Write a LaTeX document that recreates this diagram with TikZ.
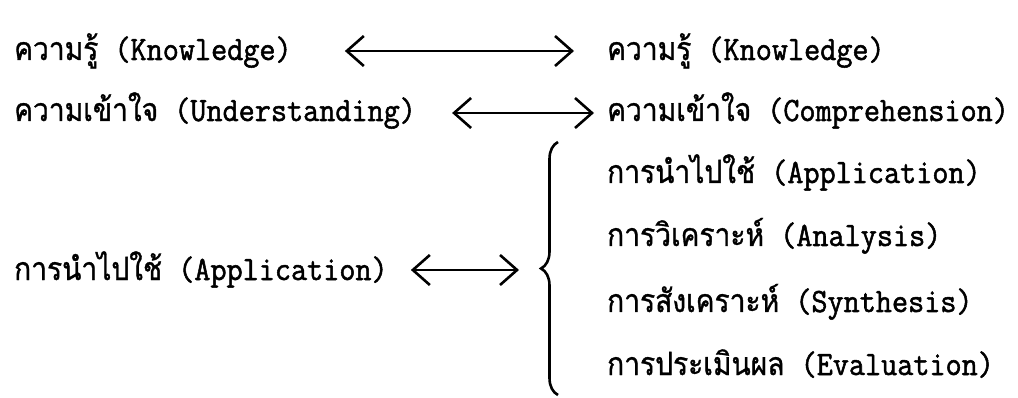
\documentclass[tikz,border=0pt]{standalone}
\usepackage{fontspec}
\setmainfont{Latin Modern Mono}[FakeStretch=0.92,FakeBold=1.5]
\newfontfamily\thai[Script=Thai,FakeStretch=0.88,FakeBold=1]{Loma}
\newcommand{\thaitext}[1]{{\thai\fontsize{32}{32}\selectfont #1}}
\usetikzlibrary{arrows.meta,decorations.pathreplacing}

\begin{document}
\begin{tikzpicture}[x=1pt,y=-1pt,
  every node/.style={inner sep=0pt,anchor=base west,font=\fontsize{34}{34}\selectfont},
  link/.style={line width=2.6pt,{Straight Barb[length=17pt,width=30pt]}-{Straight Barb[length=17pt,width=30pt]}}]
  \useasboundingbox (0,0) rectangle (1018,398);
  % left column
  \node (kl) at (14,60) {\thaitext{ความรู้} (Knowledge)};
  \node (ul) at (14,121) {\thaitext{ความเข้าใจ} (Understanding)};
  \node (al) at (14,280) {\thaitext{การนำไปใช้} (Application)};
  % right column
  \node (kr) at (607,60) {\thaitext{ความรู้} (Knowledge)};
  \node (cr) at (607,121) {\thaitext{ความเข้าใจ} (Comprehension)};
  \foreach \y/\nm/\th/\en in {183/apr/การนำไปใช้/Application,
      246/anr/การวิเคราะห์/Analysis,
      312/syr/การสังเคราะห์/Synthesis,
      375/evr/การประเมินผล/Evaluation} { %for each item under the brace
    \node (\nm) at (607,\y) {\thaitext{\th} (\en)};
  }
  % brace and its tip
  \draw[line width=2.6pt,decorate,decoration={brace,amplitude=17pt}] (558,395) -- (558,142);
  \coordinate (tip) at (541,270);
  % arrows
  \draw[link,shorten <=53pt,shorten >=33pt] ([yshift=9pt]kl.base east) -- ([yshift=9pt]kr.base west);
  \draw[link,shorten <=36pt,shorten >=13pt] ([yshift=8pt]ul.base east) -- ([yshift=8pt]cr.base west);
  \draw[link,shorten <=23pt,shorten >=22pt] ([yshift=10pt]al.base east) -- (tip);
\end{tikzpicture}
\end{document}
